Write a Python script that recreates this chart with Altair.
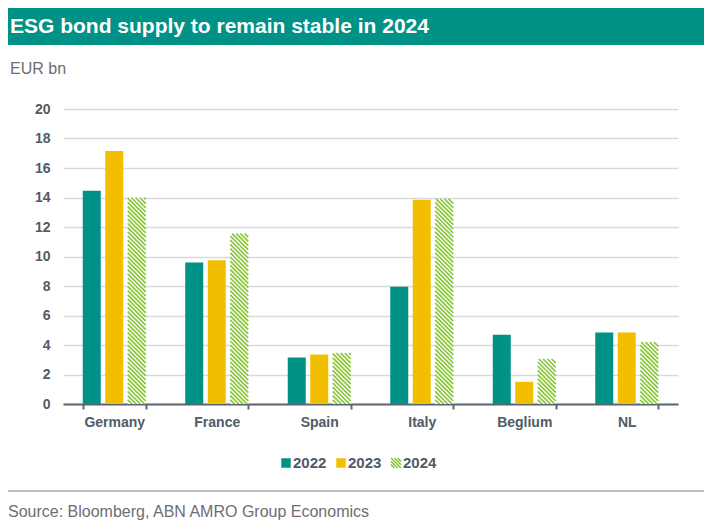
import altair as alt
import pandas as pd

# ---------------- data ----------------
countries = ["Germany", "France", "Spain", "Italy", "Beglium", "NL"]
years = ["2022", "2023", "2024"]
v2022 = [14.45, 9.6, 3.15, 7.95, 4.7, 4.85]
v2023 = [17.15, 9.75, 3.35, 13.85, 1.5, 4.85]
v2024 = [14.0, 11.55, 3.45, 13.9, 3.05, 4.2]
y_ticks = [0, 2, 4, 6, 8, 10, 12, 14, 16, 18, 20]

title_text = "ESG bond supply to remain stable in 2024"
unit_text = "EUR bn"
source_text = "Source: Bloomberg, ABN AMRO Group Economics"

# ---------------- style ----------------
FONT = "Liberation Sans, Arial, sans-serif"
TEAL = "#009286"
YELLOW = "#F2BF00"
HATCH = "#8DC63F"
TEXT_DARK = "#4F5B66"
TEXT_GREY = "#6D6E71"
GRID = "#D9D9D9"
AXIS_DARK = "#5B6670"

W, H = 615, 295
BAR_PX = 18.0
YMAX = 20

rows = []
for y, vals in zip(years, [v2022, v2023, v2024]):
    for c, v in zip(countries, vals):
        rows.append({"country": c, "year": y, "value": v})
bars = pd.DataFrame(rows)

# hatch lines for the 2024 bars (diagonal strokes, truncated at the bar top)
pxu = H / YMAX
half_u = (BAR_PX / 2) / pxu
step_u = 4.2 / pxu
hrows = []
for c, v in zip(countries, v2024):
    k = 0
    while True:
        yc = -half_u + k * step_u
        if yc >= v + half_u:
            break
        t = max(0.0, (yc + half_u - v) * pxu)
        if t < BAR_PX - 0.5:
            a = -1 + 2 * t / BAR_PX
            hrows.append({"country": c, "year": "2024", "yc": yc,
                          "path": f"M{a:.3f},{a:.3f}L1,1"})
        k += 1
hatch = pd.DataFrame(hrows)

HATCH_PATH = ("M-1,-1L1,1M-0.33,-1L1,0.33M0.33,-1L1,-0.33"
              "M-1,-0.33L0.33,1M-1,0.33L-0.33,1")

x_scale = alt.Scale(domain=countries, paddingInner=0.3854, paddingOuter=0.1927)
xoff_scale = alt.Scale(domain=years, paddingInner=0.2, paddingOuter=0)
y_scale = alt.Scale(domain=[0, YMAX], nice=False)
color_scale = alt.Scale(domain=years, range=[TEAL, YELLOW, "#FFFFFF"])

x_axis = alt.Axis(title=None, labelAngle=0, labelFont=FONT, labelFontSize=14,
                  labelFontWeight="bold", labelColor=TEXT_DARK, labelPadding=6,
                  domainColor=AXIS_DARK, domainWidth=2, tickColor=AXIS_DARK,
                  tickWidth=2, tickSize=5, tickBand="extent", grid=False)
y_axis = alt.Axis(title=None, values=y_ticks, labelFont=FONT, labelFontSize=14,
                  labelFontWeight="bold", labelColor=TEXT_DARK, labelPadding=13,
                  labelOverlap=False, grid=True, gridColor=GRID, gridWidth=1.5,
                  domain=False, ticks=False)

bar_layer = alt.Chart(bars).mark_bar().encode(
    x=alt.X("country:N", sort=countries, scale=x_scale, axis=x_axis),
    xOffset=alt.XOffset("year:N", scale=xoff_scale),
    y=alt.Y("value:Q", scale=y_scale, axis=y_axis),
    color=alt.Color("year:N", scale=color_scale, legend=None),
)

hatch_layer = alt.Chart(hatch).mark_point(
    filled=False, stroke=HATCH, strokeWidth=1.7, strokeCap="butt", opacity=1,
    size=BAR_PX * BAR_PX, clip=True,
).encode(
    x=alt.X("country:N", sort=countries, scale=x_scale, axis=x_axis),
    xOffset=alt.XOffset("year:N", scale=xoff_scale),
    y=alt.Y("yc:Q", scale=y_scale, axis=y_axis),
    shape=alt.Shape("path:N", scale=None),
)

main = alt.layer(bar_layer, hatch_layer)

# ---------------- legend (built from the years list) ----------------
leg = pd.DataFrame({"year": years})
leg_x = alt.X("year:N", scale=alt.Scale(domain=years, range=[223, 333], padding=0), axis=None)
leg_y = alt.value(354)
leg_sq = alt.Chart(leg).transform_filter("datum.year !== '2024'").mark_point(
    shape="square", filled=True, size=90, opacity=1).encode(
    x=leg_x, y=leg_y, color=alt.Color("year:N", scale=color_scale, legend=None))
leg_hatch = alt.Chart(leg).transform_filter("datum.year === '2024'").mark_point(
    shape=HATCH_PATH, filled=False, stroke=HATCH, strokeWidth=1.6, size=100,
    opacity=1).encode(x=leg_x, y=leg_y)
leg_txt = alt.Chart(leg).mark_text(
    align="left", baseline="middle", dx=7, font=FONT, fontSize=15, fontWeight="bold",
    color=TEXT_DARK).encode(x=leg_x, y=leg_y, text="year:N")
legend_layer = alt.layer(leg_sq, leg_hatch, leg_txt)

# ---------------- decorations ----------------
one = pd.DataFrame({"t": [title_text]})
banner = alt.Chart(one).mark_rect(color=TEAL).encode(
    x=alt.value(-55), x2=alt.value(645), y=alt.value(-101), y2=alt.value(-64))
title = alt.Chart(one).mark_text(
    align="left", baseline="alphabetic", font=FONT, fontSize=21, fontWeight="bold",
    color="white").encode(x=alt.value(-53), y=alt.value(-76), text="t:N")
unit = alt.Chart(pd.DataFrame({"t": [unit_text]})).mark_text(
    align="left", baseline="alphabetic", font=FONT, fontSize=16,
    color=TEXT_GREY).encode(x=alt.value(-53), y=alt.value(-35), text="t:N")
sep = alt.Chart(one).mark_rule(color="#BFBFBF", strokeWidth=2).encode(
    x=alt.value(-55), x2=alt.value(645), y=alt.value(382))
source = alt.Chart(pd.DataFrame({"t": [source_text]})).mark_text(
    align="left", baseline="alphabetic", font=FONT, fontSize=16,
    color=TEXT_GREY).encode(x=alt.value(-55), y=alt.value(408), text="t:N")

chart = alt.layer(main, legend_layer, banner, title, unit, sep, source).resolve_scale(
    x="independent"
).properties(
    width=W, height=H,
    autosize=alt.AutoSizeParams(type="none"),
    padding={"left": 55, "top": 101, "right": 26, "bottom": 125},
    background="white",
).configure_view(stroke=None)

chart.save("out.html", embed_options={"renderer": "svg", "actions": False})
